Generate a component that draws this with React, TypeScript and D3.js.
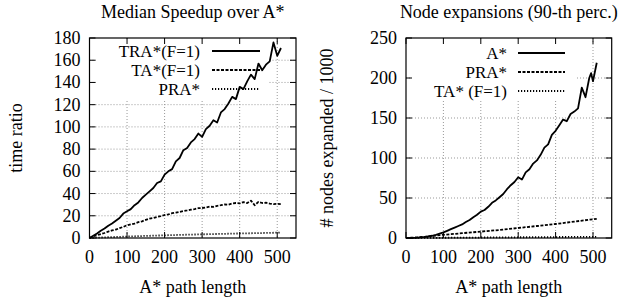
import React from "react";
import * as d3 from "d3";

// ---- left panel: median speedup over A* ----
const leftX = [0, 10, 20, 30, 40, 50, 60, 70, 80, 90, 100, 110, 120, 130, 140, 150, 160, 170, 180, 190, 200, 210, 220, 230, 240, 250, 260, 270, 280, 290, 300, 310, 320, 330, 340, 350, 360, 370, 380, 390, 400, 410, 420, 430, 440, 450, 460, 470, 480, 490, 500, 510];
const traF1 = [0, 2, 4, 6.5, 8.5, 11, 13, 15.5, 18, 22, 24, 26, 29.5, 32, 36, 39, 42, 45, 49.5, 51, 57, 60, 62, 69, 72, 79, 81, 86, 89, 94, 91, 98, 101, 106, 104, 113, 116, 121, 127, 125, 136, 134, 141, 147, 143, 157, 151, 156, 159, 176, 164, 171];
const taF1 = [0, 1.5, 2.5, 3.5, 4.5, 5.8, 6.8, 7.6, 8.8, 10, 11.5, 12.3, 13, 14.2, 15, 16.3, 17.5, 18, 19, 19.6, 20.7, 21.2, 22.3, 22.8, 23.5, 24.2, 24.8, 25.5, 26, 26.8, 27, 27.5, 28.2, 28, 29, 29.5, 30.2, 30, 31, 31.5, 31.2, 32.3, 31.5, 33.6, 29.5, 32.5, 31.5, 31.8, 31, 30.5, 30.8, 30.5];
const praX = [0, 50, 100, 150, 200, 250, 300, 350, 400, 450, 500, 510];
const pra = [0, 0.7, 1.3, 1.9, 2.4, 2.9, 3.3, 3.7, 4.1, 4.4, 4.8, 5];

// ---- right panel: node expansions (90-th perc.) ----
const astarX = [0, 10, 20, 30, 40, 50, 60, 70, 80, 90, 100, 110, 120, 130, 140, 150, 160, 170, 180, 190, 200, 210, 220, 230, 240, 250, 260, 270, 280, 290, 300, 310, 320, 330, 340, 350, 360, 370, 380, 390, 400, 410, 420, 430, 440, 450, 460, 470, 480, 490, 495, 500, 510];
const astar = [0, 0, 0.2, 0.4, 0.8, 1.3, 2, 2.8, 4, 5.5, 7, 9, 11, 13, 15, 17, 20, 22.5, 26, 29, 33, 35, 39, 44, 47, 51, 55, 61, 66, 70, 76, 73, 82, 86, 93, 97, 104, 113, 117, 129, 134, 141, 148, 146, 155, 158, 162, 188, 176, 200, 206, 196, 219];
const nodesPraX = [0, 20, 50, 100, 150, 200, 250, 300, 350, 400, 450, 510];
const nodesPra = [0, 0.5, 1.5, 4, 6, 8, 10, 12.5, 15, 17.5, 20.5, 24];
const nodesTaX = [0, 100, 200, 300, 400, 510];
const nodesTa = [0, 0.3, 0.6, 0.9, 1.2, 1.5];

const xTicks = [0, 100, 200, 300, 400, 500];
const leftYTicks = [0, 20, 40, 60, 80, 100, 120, 140, 160, 180];
const rightYTicks = [0, 50, 100, 150, 200, 250];

const FONT = "'Liberation Serif', 'Times New Roman', serif";

type Series = { name: string; xs: number[]; ys: number[]; dash: string };

function Panel(props: any) {
  const { left, right, top, bottom, yMax, yTicks, title, ylabel, ylabelX, series, legend } = props;
  const x = d3.scaleLinear().domain([0, 550]).range([left, right]);
  const y = d3.scaleLinear().domain([0, yMax]).range([bottom, top]);
  const line = d3.line<[number, number]>().x(d => x(d[0])).y(d => y(d[1]));
  const cx = (left + right) / 2;

  return (
    <g fontFamily={FONT} fontSize={18} fill="#000">
      {/* grid */}
      {xTicks.filter(t => t > 0).map(t => (
        <line key={"gx" + t} x1={x(t)} x2={x(t)} y1={top} y2={bottom} stroke="#999" strokeDasharray="1,2" />
      ))}
      {yTicks.filter((t: number) => t > 0 && t < yMax).map((t: number) => (
        <line key={"gy" + t} x1={left} x2={right} y1={y(t)} y2={y(t)} stroke="#999" strokeDasharray="1,2" />
      ))}
      {/* legend box */}
      <rect x={legend.box[0]} y={legend.box[1]} width={legend.box[2]} height={legend.box[3]} fill="#fff" />
      {series.map((s: Series, i: number) => (
        <g key={s.name}>
          <text x={legend.textX} y={legend.rows[i]} fontSize={17} textAnchor="end" dominantBaseline="central">{s.name}</text>
          <line x1={legend.lineX[0]} x2={legend.lineX[1]} y1={legend.rows[i]} y2={legend.rows[i]} stroke="#000" strokeWidth={1.8} strokeDasharray={s.dash} />
        </g>
      ))}
      {/* data */}
      {series.map((s: Series) => (
        <path key={"p" + s.name} d={line(s.xs.map((v, i) => [v, s.ys[i]] as [number, number])) || ""} fill="none" stroke="#000" strokeWidth={1.8} strokeDasharray={s.dash} strokeLinejoin="round" />
      ))}
      {/* frame and ticks */}
      <rect x={left} y={top} width={right - left} height={bottom - top} fill="none" stroke="#000" strokeWidth={1.2} />
      {xTicks.map(t => (
        <g key={"tx" + t}>
          <line x1={x(t)} x2={x(t)} y1={bottom} y2={bottom - 6} stroke="#000" />
          <line x1={x(t)} x2={x(t)} y1={top} y2={top + 6} stroke="#000" />
          <text x={x(t)} y={263} textAnchor="middle">{t}</text>
        </g>
      ))}
      {yTicks.map((t: number) => (
        <g key={"ty" + t}>
          <line x1={left} x2={left + 6} y1={y(t)} y2={y(t)} stroke="#000" />
          <line x1={right} x2={right - 6} y1={y(t)} y2={y(t)} stroke="#000" />
          <text x={left - 9} y={y(t)} textAnchor="end" dominantBaseline="central">{t}</text>
        </g>
      ))}
      <text x={cx} y={293} textAnchor="middle">A* path length</text>
      <text x={cx} y={18} textAnchor="middle">{title}</text>
      <text transform={`translate(${ylabelX},138) rotate(-90)`} textAnchor="middle" dominantBaseline="central">{ylabel}</text>
    </g>
  );
}

export default function App() {
  const leftSeries: Series[] = [
    { name: "TRA*(F=1)", xs: leftX, ys: traF1, dash: "none" },
    { name: "TA*(F=1)", xs: leftX, ys: taF1, dash: "3,1.5" },
    { name: "PRA*", xs: praX, ys: pra, dash: "1.2,1.8" },
  ];
  const rightSeries: Series[] = [
    { name: "A*", xs: astarX, ys: astar, dash: "none" },
    { name: "PRA*", xs: nodesPraX, ys: nodesPra, dash: "3,1.5" },
    { name: "TA* (F=1)", xs: nodesTaX, ys: nodesTa, dash: "1.2,1.8" },
  ];
  return (
    <div style={{ position: "absolute", left: 0, top: 0 }}>
      <svg width={619} height={300} style={{ display: "block", background: "#fff" }}>
        <Panel left={89.5} right={296} top={38} bottom={238} yMax={180} yTicks={leftYTicks}
          title="Median Speedup over A*" ylabel="time ratio" ylabelX={16} series={leftSeries}
          legend={{ box: [96, 41, 172, 58], textX: 200, rows: [51, 70, 89], lineX: [212, 260] }} />
        <Panel left={406} right={611.7} top={38} bottom={238} yMax={250} yTicks={rightYTicks}
          title="Node expansions (90-th perc.)" ylabel="# nodes expanded / 1000" ylabelX={327} series={rightSeries}
          legend={{ box: [411, 41, 164, 58], textX: 507, rows: [53, 72, 91], lineX: [518, 565] }} />
      </svg>
    </div>
  );
}
